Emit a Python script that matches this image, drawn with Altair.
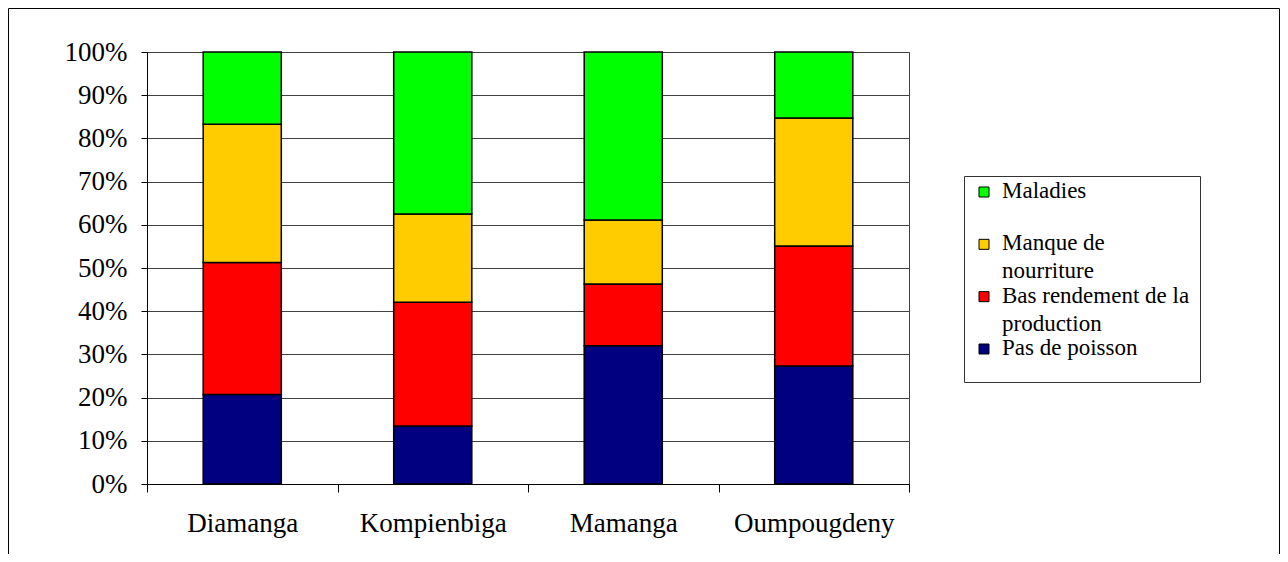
import altair as alt
import pandas as pd

villages = ["Diamanga", "Kompienbiga", "Mamanga", "Oumpougdeny"]
series = ["Pas de poisson", "Bas rendement de la production", "Manque de nourriture", "Maladies"]
legend_labels = ["Pas de poisson", "Bas rendement de la\nproduction", "Manque de\nnourriture", "Maladies"]
colors = ["#000080", "#FF0000", "#FFCC00", "#00FF00"]

pas_de_poisson = [20.7, 13.4, 32.0, 27.3]
bas_rendement = [30.6, 28.7, 14.3, 27.8]
manque_nourriture = [32.0, 20.4, 14.8, 29.6]
maladies = [16.7, 37.5, 38.9, 15.3]

values = [pas_de_poisson, bas_rendement, manque_nourriture, maladies]
rows = []
for si, s in enumerate(series):
    for vi, v in enumerate(villages):
        rows.append({"village": v, "series": s, "value": values[si][vi], "ord": si})
df = pd.DataFrame(rows)

leg_df = pd.DataFrame({"series": series, "label": legend_labels})
legend_order = list(reversed(series))

FONT = "Liberation Serif"
GRID = "#404040"

color_scale = alt.Scale(domain=legend_order, range=list(reversed(colors)))

bars = alt.Chart(df).mark_bar(stroke="black", strokeWidth=1.5,
                              width=alt.RelativeBandSize(0.41)).encode(
    x=alt.X("village:N", sort=villages,
            scale=alt.Scale(paddingInner=0, paddingOuter=0),
            axis=alt.Axis(title=None, labelAngle=0, labelFont=FONT, labelFontSize=27,
                          labelColor="black", tickBand="extent", tickSize=8,
                          tickColor="black", domainColor="black", labelPadding=18,
                          grid=False)),
    y=alt.Y("value:Q", stack="normalize", scale=alt.Scale(domain=[0, 1]),
            axis=alt.Axis(title=None, values=[i / 10 for i in range(11)], format=".0%",
                          labelFont=FONT, labelFontSize=27, labelColor="black",
                          tickSize=6, tickColor="black", domainColor="black",
                          labelPadding=14, gridColor=GRID, gridWidth=1)),
    color=alt.Color("series:N", scale=color_scale, legend=None),
    order=alt.Order("ord:Q", sort="ascending"),
)

leg_y = alt.Y("series:N", scale=alt.Scale(type="point", domain=legend_order,
                                          range=[140, 297], padding=0), axis=None)

leg_sym = alt.Chart(leg_df).mark_square(size=100, stroke="black", strokeWidth=1,
                                        opacity=1).encode(
    x=alt.value(837), y=leg_y,
    color=alt.Color("series:N", scale=color_scale, legend=None),
)

leg_txt = alt.Chart(leg_df).mark_text(align="left", baseline="alphabetic", dy=6,
                                      lineBreak="\n", font=FONT, fontSize=23,
                                      lineHeight=28, color="black").encode(
    x=alt.value(855), y=leg_y, text="label:N",
)

one = pd.DataFrame({"a": [0]})
leg_box = alt.Chart(one).mark_rect(fillOpacity=0, stroke="#333333", strokeWidth=1).encode(
    x=alt.value(817.5), x2=alt.value(1053.5), y=alt.value(124.5), y2=alt.value(330.5))
frame = alt.Chart(one).mark_rect(fillOpacity=0, stroke="black", strokeWidth=1).encode(
    x=alt.value(-138.5), x2=alt.value(1132.5), y=alt.value(-43.5), y2=alt.value(700))

chart = alt.layer(frame, bars, leg_box, leg_sym, leg_txt).resolve_scale(
    y="independent"
).properties(
    width=762, height=432,
    padding={"left": 139, "top": 44, "right": 371, "bottom": 70},
    autosize=alt.AutoSizeParams(type="none"),
).configure_view(stroke=GRID, strokeWidth=1).configure_text(font=FONT)

chart.save("out.html", embed_options={"renderer": "svg", "actions": False})
